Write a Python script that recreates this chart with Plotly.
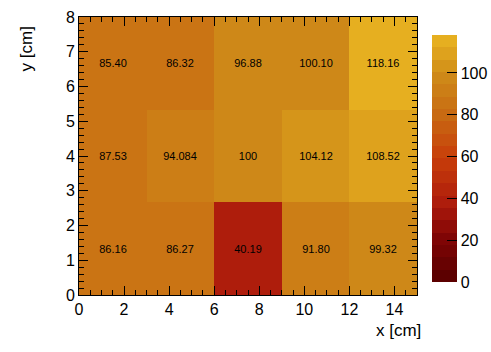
import plotly.graph_objects as go
import numpy as np

x_edges = [0, 3, 6, 9, 12, 15]
y_edges = [0, 8/3, 16/3, 8]
# rows: bottom, middle, top
values = [
    [86.16, 86.27, 40.19, 91.80, 99.32],
    [87.53, 94.084, 100, 104.12, 108.52],
    [85.40, 86.32, 96.88, 100.10, 118.16],
]
labels = [
    ["86.16", "86.27", "40.19", "91.80", "99.32"],
    ["87.53", "94.084", "100", "104.12", "108.52"],
    ["85.40", "86.32", "96.88", "100.10", "118.16"],
]
zmin, zmax = 0, 118.16
nlev = 20

# palette anchors (fraction, rgb)
anchors = [
    (0.00, (92, 0, 0)),
    (0.17, (130, 5, 5)),
    (0.30, (172, 26, 12)),
    (0.50, (200, 62, 10)),
    (0.68, (200, 105, 18)),
    (0.85, (206, 138, 24)),
    (1.00, (230, 175, 32)),
]
def interp(f):
    for (f0, c0), (f1, c1) in zip(anchors[:-1], anchors[1:]):
        if f <= f1:
            t = (f - f0) / (f1 - f0)
            return tuple(int(round(a + (b - a) * t)) for a, b in zip(c0, c1))
    return anchors[-1][1]

cs = []
for i in range(nlev):
    c = interp(i / (nlev - 1))
    col = f"rgb{c}"
    cs.append([i / nlev, col])
    cs.append([(i + 1) / nlev, col])

FONT = "Liberation Sans, Arial"

fig = go.Figure(go.Heatmap(
    x=x_edges, y=y_edges, z=values,
    text=labels, texttemplate="%{text}",
    textfont=dict(family=FONT, size=11, color="black"),
    colorscale=cs, zmin=zmin, zmax=zmax,
    hoverinfo="skip",
    colorbar=dict(
        x=1.044, xanchor="left", xref="paper",
        y=0.491, yanchor="middle", len=0.888, lenmode="fraction",
        thickness=25, outlinewidth=0, xpad=0, ypad=0,
        ticks="inside", ticklen=10, tickcolor="black", tickwidth=1,
        tick0=0, dtick=20,
        tickfont=dict(family=FONT, size=16, color="black"),
    ),
))

axis_common = dict(
    showgrid=False, zeroline=False, showline=True, linecolor="black", linewidth=1,
    mirror="ticks", ticks="inside", ticklen=9, tickcolor="black",
    tickfont=dict(family=FONT, size=16, color="black"),
)
fig.update_xaxes(range=[0, 15], dtick=2, tick0=0,
                 minor=dict(dtick=0.5, ticks="inside", ticklen=5, tickcolor="black"),
                 **axis_common)
fig.update_yaxes(range=[0, 8], dtick=1, tick0=0,
                 minor=dict(dtick=0.2, ticks="inside", ticklen=5, tickcolor="black"),
                 **axis_common)

fig.add_annotation(text="x [cm]", xref="paper", yref="paper", x=1.018, y=-0.085,
                   xanchor="right", yanchor="top", showarrow=False,
                   font=dict(family=FONT, size=17, color="black"))
fig.add_annotation(text="y [cm]", xref="paper", yref="paper", x=-0.12, y=0.975,
                   xanchor="right", yanchor="top", textangle=-90, showarrow=False,
                   font=dict(family=FONT, size=17, color="black"))

fig.update_layout(
    width=491, height=352,
    margin=dict(l=79, r=74, t=17, b=57, autoexpand=False),
    paper_bgcolor="white", plot_bgcolor="white",
    showlegend=False,
)
fig.write_html("out.html", config={"displayModeBar": False},
               post_script="document.body.style.margin='0px';")
